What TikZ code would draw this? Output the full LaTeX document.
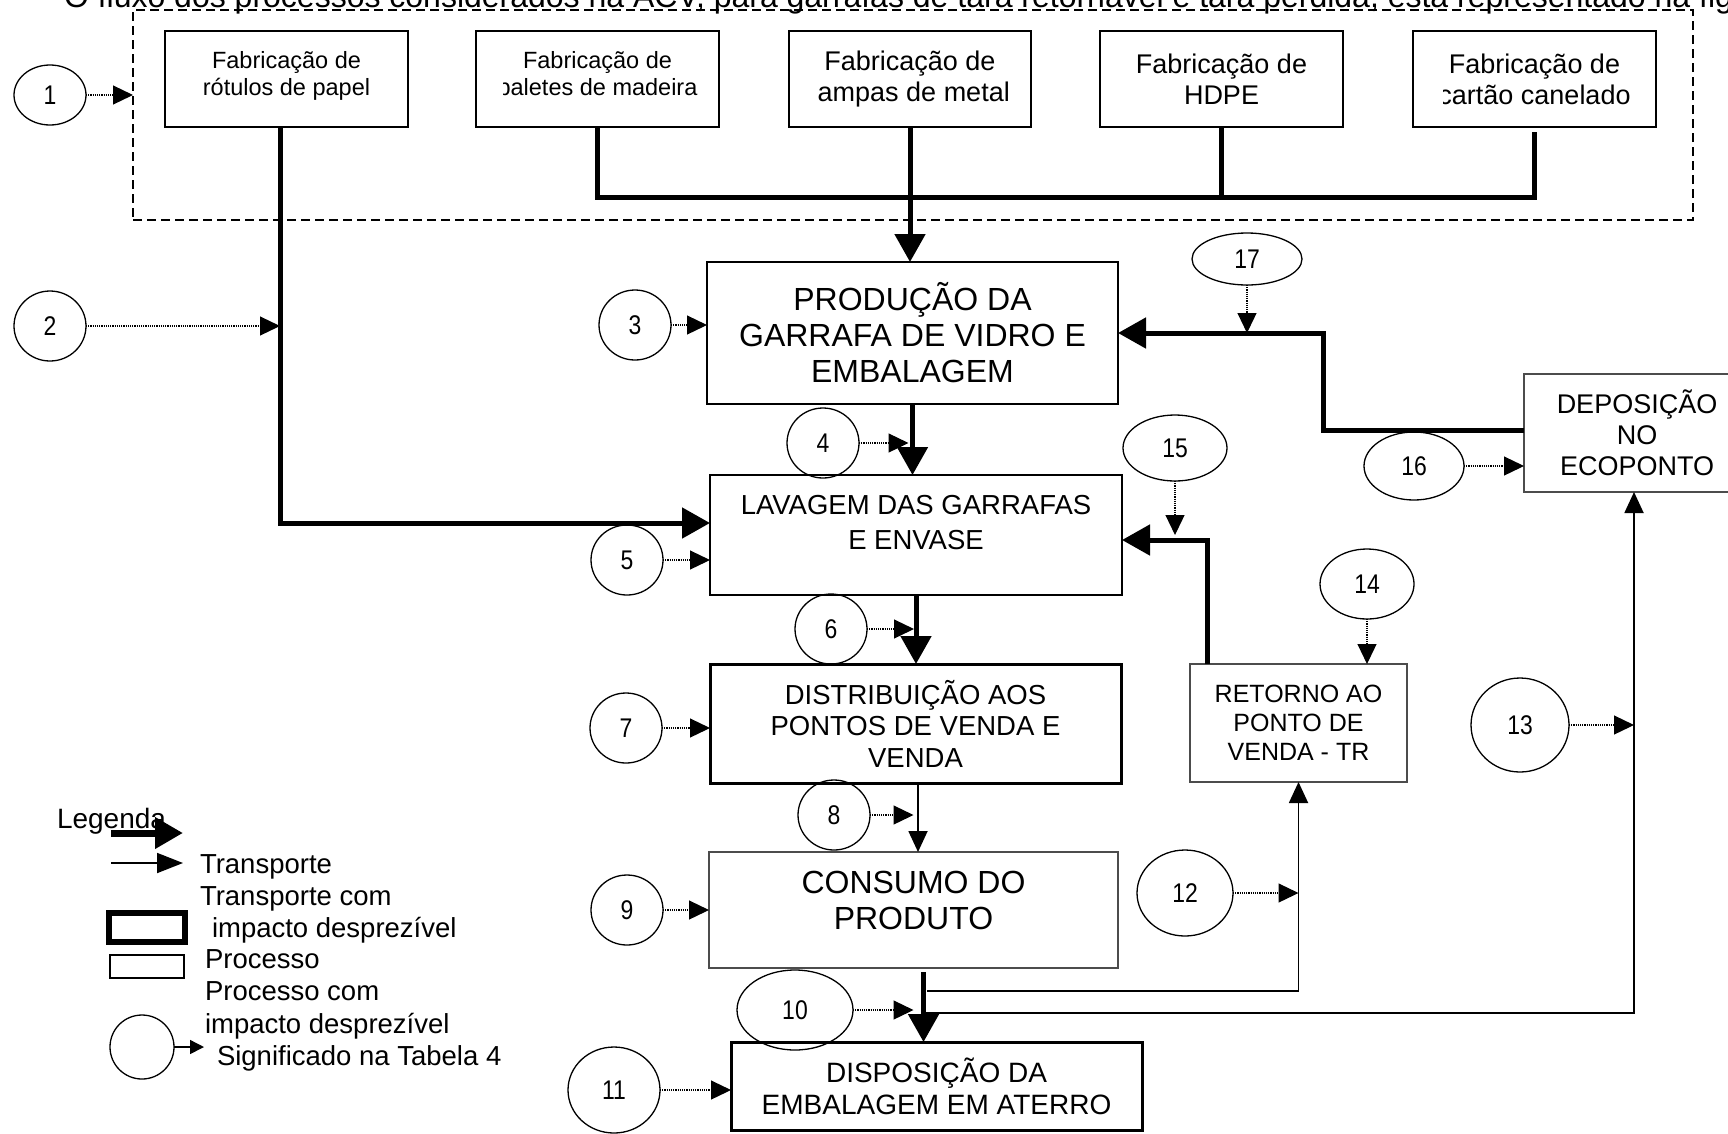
\documentclass[tikz,border=0pt]{standalone}
\usepackage{fontspec}
\setmainfont{Liberation Sans}
\newfontfamily\numfont[FakeStretch=0.85]{Liberation Sans}
\usetikzlibrary{arrows.meta,positioning,shapes.geometric}

\begin{document}
\begin{tikzpicture}[x=1pt, y=-1pt,
  every node/.style={inner sep=0pt, outer sep=0pt},
  heavybox/.style={draw, line width=2.5pt, align=center},
  lightbox/.style={draw=black!70, line width=1.3pt, align=center},
  toptext/.style={align=center, font=\fontsize{23.5}{27}\selectfont},
  topbig/.style={align=center, font=\fontsize{27}{31}\selectfont},
  num/.style={draw, ellipse, line width=1.3pt, minimum width=72, minimum height=70, font=\numfont\fontsize{27}{30}\selectfont},
  feed/.style={densely dotted, line width=1.2pt, -{Triangle[length=20pt,width=19pt]}},
  flow/.style={line width=5pt, -{Triangle[length=28pt,width=30pt]}},
  transp/.style={line width=1.8pt, -{Triangle[length=21pt,width=19pt]}},
  bus/.style={line width=5pt},
  legtext/.style={anchor=base west, font=\fontsize{27.5}{32}\selectfont}]
\useasboundingbox (0,0) rectangle (1728,1133);
\clip (0,0) rectangle (1728,1133);

% linha de texto cortada no topo
\node[anchor=base west, font=\fontsize{32}{36}\selectfont] (intro) at (64,7)
  {O fluxo dos processos considerados na ACV, para garrafas de tara retornável e tara perdida, está representado na figura};

% moldura dos materiais
\node[draw, dash pattern=on 9pt off 5pt, line width=1.5pt, minimum width=1560, minimum height=210] (acv) at (913,115) {};

\node[heavybox, minimum width=243, minimum height=96] (rotulos) at (286.5,79) {};
\node[heavybox, minimum width=243, minimum height=96] (paletes) at (597.5,79) {};
\node[heavybox, minimum width=242, minimum height=96] (tampas) at (910,79) {};
\node[heavybox, minimum width=243, minimum height=96] (hdpe) at (1221.5,79) {};
\node[heavybox, minimum width=243, minimum height=96] (cartao) at (1534.5,79) {};

\node[toptext] (rotulos-t) at ([yshift=3]rotulos) {Fabricação de\\rótulos de papel};
\begin{scope}
  \clip ([xshift=27]paletes.south west) rectangle (paletes.north east);
  \node[toptext] (paletes-t) at ([yshift=3]paletes) {Fabricação de\\paletes de madeira};
\end{scope}
\begin{scope}
  \clip ([xshift=29]tampas.south west) rectangle (tampas.north east);
  \node[topbig] (tampas-t) at (tampas) {Fabricação de\\tampas de metal};
\end{scope}
\node[topbig] (hdpe-t) at (hdpe) {Fabricação de\\HDPE};
\begin{scope}
  \clip ([xshift=30]cartao.south west) rectangle (cartao.north east);
  \node[topbig] (cartao-t) at (cartao) {Fabricação de\\cartão canelado};
\end{scope}

% processos
\node[heavybox, minimum width=411, minimum height=142, font=\fontsize{32}{36}\selectfont] (prod) at (912.5,333) {PRODUÇÃO DA\\GARRAFA DE VIDRO E\\EMBALAGEM};
\node[heavybox, minimum width=412, minimum height=120, text depth=26pt, font=\fontsize{27.5}{35}\selectfont] (lav) at (916,535) {LAVAGEM DAS GARRAFAS\\E ENVASE};
\node[heavybox, line width=3pt, minimum width=411, minimum height=119, font=\fontsize{27.5}{31.5}\selectfont] (dist) at (915.5,723.5) {DISTRIBUIÇÃO AOS\\PONTOS DE VENDA E\\VENDA};
\node[lightbox, minimum width=409, minimum height=116, text depth=20pt, font=\fontsize{32}{36}\selectfont] (cons) at (913.5,910) {CONSUMO DO\\PRODUTO};
\node[heavybox, line width=3pt, minimum width=411, minimum height=88, font=\fontsize{28}{32}\selectfont] (disp) at (936.5,1086) {DISPOSIÇÃO DA\\EMBALAGEM EM ATERRO};
\node[lightbox, minimum width=217, minimum height=118, font=\fontsize{25}{29}\selectfont] (ret) at (1298.5,723) {RETORNO AO\\PONTO DE\\VENDA - TR};
\node[lightbox, minimum width=226, minimum height=118, font=\fontsize{27}{31}\selectfont] (dep) at (1637,433) {DEPOSIÇÃO\\NO\\ECOPONTO};

% numeros
\node[num, minimum height=60] (n1) at (50,95) {1};
\node[num] (n2) at (50,326) {2};
\node[num] (n3) at (635,325) {3};
\node[num] (n4) at (823,443) {4};
\node[num] (n5) at (627,560) {5};
\node[num] (n6) at (831,629) {6};
\node[num] (n7) at (626,728) {7};
\node[num] (n8) at (834,815) {8};
\node[num] (n9) at (627,910) {9};
\node[num, minimum width=116, minimum height=80] (n10) at (795,1010) {10};
\node[num, minimum width=92, minimum height=86] (n11) at (614,1090) {11};
\node[num, minimum width=96, minimum height=86] (n12) at (1185,893) {12};
\node[num, minimum width=98, minimum height=94] (n13) at (1520,725) {13};
\node[num, minimum width=94, minimum height=70] (n14) at (1367,584) {14};
\node[num, minimum width=104, minimum height=66] (n15) at (1175,448) {15};
\node[num, minimum width=100, minimum height=68] (n16) at (1414,466) {16};
\node[num, minimum width=110, minimum height=52] (n17) at (1247,259) {17};

% pontos de apoio
\coordinate (drop1) at ([xshift=-6.5]rotulos.south);
\coordinate (bus) at (0,197);
\coordinate (x1) at ([xshift=2.5]dist.south);
\coordinate (x2) at ([xshift=10,yshift=-4]cons.south);
\coordinate (x3) at ([xshift=13.5,yshift=-23]cons.south);
\coordinate (x4) at ([xshift=10,yshift=-45]cons.south);
\coordinate (x5) at ([xshift=-3]dep.south);
\coordinate (x6) at ([yshift=3]dep.west);
\coordinate (x7) at ([xshift=-91.5]ret.north);

% fluxos
\draw[flow] (drop1) |- ([yshift=12]lav.west);
\draw[bus] (paletes.south) -- (paletes.south |- bus) -- (cartao.south |- bus) -- ([yshift=-5]cartao.south);
\draw[bus] (hdpe.south) -- (hdpe.south |- bus);
\draw[flow] (tampas.south) -- (tampas.south |- prod.north);
\draw[flow] (prod.south) -- (prod.south |- lav.north);
\draw[flow] (lav.south) -- (lav.south |- dist.north);
\draw[transp] (x1) -- (x1 |- cons.north);
\draw[flow] (x2) -- (x2 |- disp.north);
\draw[transp] (x3) -| (ret.south);
\draw[transp] (x4) -| (x5);
\draw[flow] (x6) -- ++(-201,0) |- (prod.east);
\draw[flow] (x7) |- ([yshift=-5]lav.east);

% entradas
\draw[feed] (n1) -- (n1 -| acv.west);
\draw[feed] (n2) -- (n2 -| drop1);
\draw[feed] (n3) -- (n3 -| prod.west);
\draw[feed, shorten >=4pt] (n4) -- (n4 -| prod.south);
\draw[feed] (n5) -- (n5 -| lav.west);
\draw[feed, shorten >=2pt] (n6) -- (n6 -| lav.south);
\draw[feed] (n7) -- (n7 -| dist.west);
\draw[feed] (n8) -- (n8 -| cons.north);
\draw[feed] (n9) -- (n9 -| cons.west);
\draw[feed] (n10) -- (n10 -| cons.south);
\draw[feed] (n11) -- (n11 -| disp.west);
\draw[feed] (n12) -- (n12 -| ret.south);
\draw[feed] (n13) -- (n13 -| x5);
\draw[feed] (n14) -- (n14 |- ret.north);
\draw[feed] (n15) -- (n15 |- lav.east);
\draw[feed] (n16) -- (n16 -| dep.west);
\draw[feed] (n17) -- (n17 |- prod.east);

% legenda
\node[anchor=base west, font=\fontsize{28}{32}\selectfont] (legenda) at (57,828) {Legenda};
\coordinate (lg1a) at (111,833);
\coordinate (lg1b) at (183,833);
\draw[line width=7pt, -{Triangle[length=28pt,width=30pt]}] (lg1a) -- (lg1b);
\coordinate (lg2a) at (111,863);
\coordinate (lg2b) at (183,863);
\draw[line width=1.8pt, -{Triangle[length=26pt,width=20pt]}] (lg2a) -- (lg2b);
\node[legtext] (leg-t1) at (200,873) {Transporte};
\node[legtext] (leg-t2) at (200,905) {Transporte com};
\node[draw, line width=6pt, minimum width=76, minimum height=29] (leg-heavy) at (147,927.5) {};
\node[legtext] (leg-t3) at (212,937) {impacto desprezível};
\node[draw, line width=1.5pt, minimum width=74, minimum height=23] (leg-light) at (147,966.5) {};
\node[legtext] (leg-t4) at (205,968) {Processo};
\node[legtext] (leg-t5) at (205,1000) {Processo com};
\node[legtext] (leg-t6) at (205,1033) {impacto desprezível};
\node[num, minimum width=64, minimum height=64] (leg-num) at (142,1047) {};
\coordinate (lg3b) at (204,1047);
\draw[line width=1.5pt, -{Triangle[length=14pt,width=14pt]}] (leg-num) -- (lg3b);
\node[legtext] (leg-t7) at (217,1065) {Significado na Tabela 4};
\end{tikzpicture}
\end{document}
